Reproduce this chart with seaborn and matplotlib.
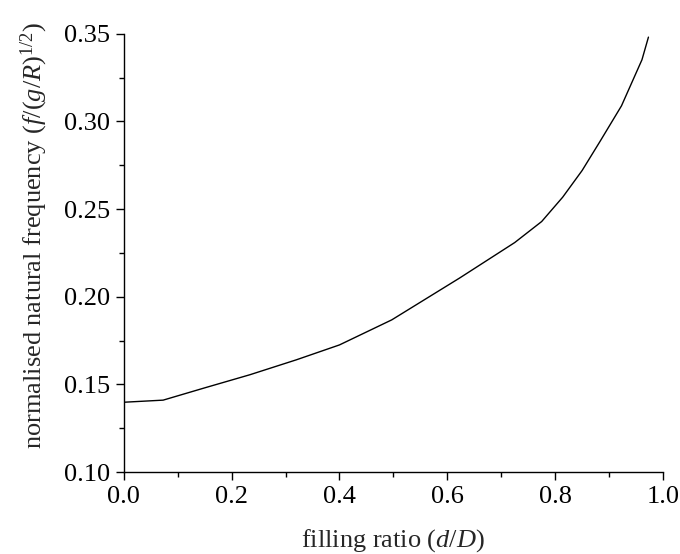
import matplotlib
matplotlib.use("Agg")
import matplotlib.pyplot as plt
from matplotlib.ticker import MultipleLocator, FormatStrFormatter
import seaborn as sns
import pandas as pd

filling_ratio = [0.0, 0.073, 0.15, 0.234, 0.32, 0.40, 0.497, 0.623, 0.725, 0.775,
                 0.814, 0.85, 0.883, 0.923, 0.961, 0.973]
norm_frequency = [0.1398, 0.1410, 0.1480, 0.1555, 0.1640, 0.1725, 0.1868, 0.2107,
                  0.2309, 0.2429, 0.2568, 0.2720, 0.2885, 0.3089, 0.3352, 0.3481]

df = pd.DataFrame({"x": filling_ratio, "y": norm_frequency})

sns.set_style("ticks")
plt.rcParams["font.family"] = ["Liberation Serif", "DejaVu Serif"]
plt.rcParams["mathtext.fontset"] = "custom"
plt.rcParams["mathtext.rm"] = "Liberation Serif"
plt.rcParams["mathtext.it"] = "Liberation Serif:italic"

fig, ax = plt.subplots(figsize=(6.8, 5.54), dpi=100)
fig.subplots_adjust(left=0.182, right=0.975, bottom=0.148, top=0.939)

sns.lineplot(data=df, x="x", y="y", ax=ax, color="black", linewidth=1.0, sort=False)

ax.set_xlim(0, 1.0)
ax.set_ylim(0.10, 0.35)
ax.xaxis.set_major_locator(MultipleLocator(0.2))
ax.xaxis.set_minor_locator(MultipleLocator(0.1))
ax.yaxis.set_major_locator(MultipleLocator(0.05))
ax.yaxis.set_minor_locator(MultipleLocator(0.025))
ax.xaxis.set_major_formatter(FormatStrFormatter("%.1f"))
ax.yaxis.set_major_formatter(FormatStrFormatter("%.2f"))

for s in ["top", "right"]:
    ax.spines[s].set_visible(False)
for s in ["left", "bottom"]:
    ax.spines[s].set_linewidth(1.0)
    ax.spines[s].set_color("black")

ax.tick_params(which="major", direction="out", length=6, width=1.0, labelsize=19,
               colors="black", pad=4)
ax.tick_params(which="minor", direction="out", length=3.5, width=1.0, colors="black")

ax.set_xlabel("filling ratio ($d$/$D$)", fontsize=19, labelpad=14)
ax.set_ylabel("normalised natural frequency ($f$/($g$/$R$)$^{1/2}$)", fontsize=19, labelpad=10)
ax.yaxis.label.set_y(0.54)

fig.savefig("out.png", dpi=100)
